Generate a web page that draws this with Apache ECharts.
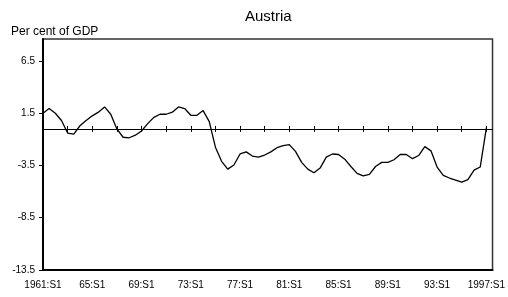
<!DOCTYPE html>
<html>
<head>
<meta charset="utf-8">
<script src="https://cdn.jsdelivr.net/npm/echarts@6/dist/echarts.min.js"></script>
<style>
  html, body { margin: 0; padding: 0; background: #fff; }
  #chart { width: 508px; height: 297px; }
</style>
</head>
<body>
<div id="chart"></div>
<script>
// half-year labels, 1961:S1 .. 1997:S2
var categories = [];
for (var y = 1961; y <= 1997; y++) {
    var yy = (y === 1961 || y === 1997) ? String(y) : String(y).slice(2);
    categories.push(yy + ':S1', yy + ':S2');
}

// balance, per cent of GDP (1961:S1 .. 1997:S1)
var balance = [
    1.5, 1.95, 1.5, 0.8, -0.4, -0.5, 0.3, 0.8, 1.25, 1.6,
    2.1, 1.4, 0.0, -0.8, -0.85, -0.6, -0.2, 0.5, 1.1, 1.4,
    1.4, 1.6, 2.1, 1.95, 1.3, 1.3, 1.75, 0.7, -1.75, -3.1,
    -3.85, -3.45, -2.4, -2.2, -2.6, -2.7, -2.5, -2.2, -1.8, -1.6,
    -1.5, -2.15, -3.2, -3.85, -4.2, -3.75, -2.7, -2.4, -2.45, -2.9,
    -3.6, -4.25, -4.5, -4.35, -3.6, -3.2, -3.2, -2.95, -2.45, -2.45,
    -2.85, -2.55, -1.7, -2.1, -3.65, -4.45, -4.7, -4.9, -5.1, -4.85,
    -3.95, -3.65, 0.1
];

// y tick positions
var yTicks = [-13.5, -8.5, -3.5, 1.5, 6.5];

var font = 'Liberation Sans, Arial, sans-serif';
var myChart = echarts.init(document.getElementById('chart'));

var option = {
    animation: false,
    title: [{
        text: 'Austria',
        left: 240,
        top: 4,
        textStyle: { fontFamily: font, fontSize: 15, fontWeight: 'normal', color: '#000' }
    }, {
        text: 'Per cent of GDP',
        left: 6,
        top: 21,
        textStyle: { fontFamily: font, fontSize: 12, fontWeight: 'normal', color: '#000' }
    }],
    grid: {
        left: 43,
        right: 13,
        top: 39,
        bottom: 27,
        show: true,
        borderColor: '#333',
        borderWidth: 1.5
    },
    xAxis: [{
        // bottom axis, carries the labels
        type: 'category',
        data: categories,
        boundaryGap: false,
        position: 'bottom',
        axisLine: { onZero: false, lineStyle: { color: '#000', width: 2 } },
        axisTick: { show: false },
        axisLabel: { interval: 7, margin: 10, fontFamily: font, fontSize: 10, color: '#000' },
        splitLine: { show: false }
    }, {
        // zero line, ticks pointing down
        type: 'category',
        data: categories,
        boundaryGap: false,
        position: 'bottom',
        axisLine: { onZero: true, onZeroAxisIndex: 0, lineStyle: { color: '#000', width: 1 } },
        axisTick: { interval: 3, length: 3, lineStyle: { color: '#000' } },
        axisLabel: { show: false },
        splitLine: { show: false }
    }, {
        // zero line, ticks pointing up
        type: 'category',
        data: categories,
        boundaryGap: false,
        position: 'top',
        axisLine: { onZero: true, onZeroAxisIndex: 0, lineStyle: { color: '#000', width: 1 } },
        axisTick: { interval: 3, length: 3, lineStyle: { color: '#000' } },
        axisLabel: { show: false },
        splitLine: { show: false }
    }],
    yAxis: [{
        type: 'value',
        min: -13.5,
        max: 8.6,
        axisLine: { show: true, lineStyle: { color: '#000', width: 2 } },
        axisTick: { show: true, length: 4, customValues: yTicks, lineStyle: { color: '#000', width: 1 } },
        axisLabel: { customValues: yTicks, margin: 8, fontFamily: font, fontSize: 10, color: '#000' },
        splitLine: { show: false }
    }],
    series: [{
        type: 'line',
        xAxisIndex: 0,
        yAxisIndex: 0,
        data: balance,
        showSymbol: false,
        lineStyle: { color: '#000', width: 1.3 }
    }]
};
myChart.setOption(option);
</script>
</body>
</html>
